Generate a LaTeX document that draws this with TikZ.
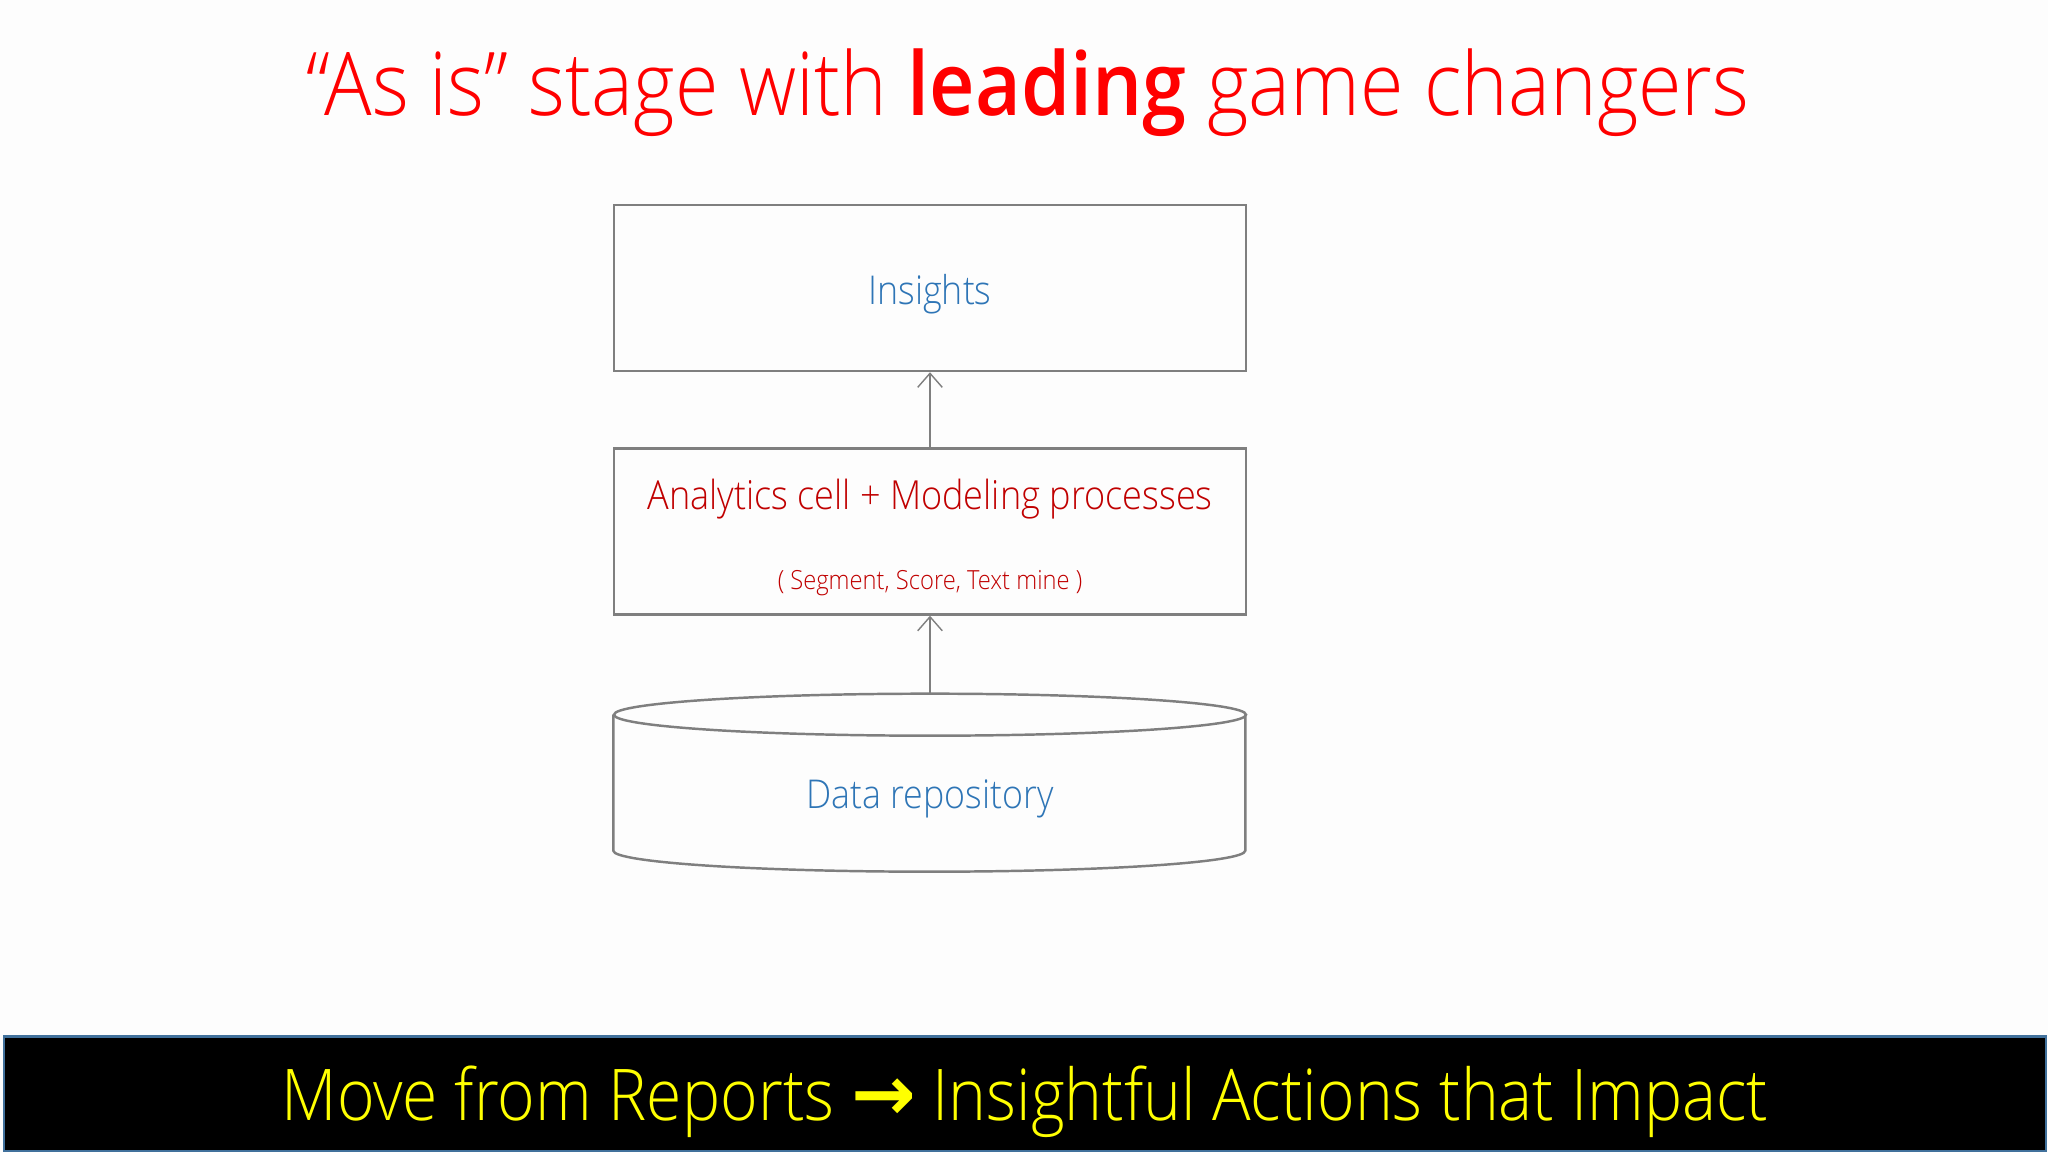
\documentclass[tikz,border=0pt]{standalone}
\usepackage{fontspec}
\setmainfont{Open Sans}[UprightFont=* Light, BoldFont=* Semibold, FakeStretch=0.9]
\newfontfamily\arrowfont{DejaVu Sans}
\usetikzlibrary{positioning,arrows.meta}

\definecolor{titlered}{HTML}{FF0000}
\definecolor{darkred}{HTML}{C00000}
\definecolor{textblue}{HTML}{2E75B6}
\definecolor{boxgrey}{HTML}{7F7F7F}
\definecolor{bandyellow}{HTML}{FFFF00}
\definecolor{bandedge}{HTML}{41719C}
\definecolor{paper}{HTML}{FDFDFD}

\begin{document}
\begin{tikzpicture}[>={Straight Barb[length=4pt,width=7pt]}, node distance=0.75cm,
    box/.style={draw=boxgrey, line width=0.7pt, minimum width=6.32cm, minimum height=1.66cm, inner sep=0pt},
    bluetext/.style={text=textblue, font=\fontsize{11.3}{13}\selectfont},
    redtext/.style={text=darkred, font=\fontsize{11.4}{13}\selectfont},
    smalltext/.style={text=darkred, font=\fontsize{7.5}{9}\selectfont},
    link/.style={draw=boxgrey, line width=0.4pt}]
    % Page
    \fill [paper] (0,0) rectangle (20.48,-11.52);
    \useasboundingbox (0,0) rectangle (20.48,-11.52);

    % Title
    \node [text=titlered, font=\fontsize{25}{29}\selectfont] (title) at (10.28,-0.93)
        {“As is” stage with \textbf{leading} game changers};

    % Nodes {insights, analytics, repo}
    \node [box]            (insights)  at (9.30,-2.88)         {};
    \node [box]            (analytics) [below=of insights]     {};
    \node [minimum width=6.32cm, minimum height=1.78cm, inner sep=0pt]
                           (repo)      [below=0.78cm of analytics] {};

    \node [bluetext]  (insightstext)  at ([yshift=-0.06cm]insights.center)  {Insights};
    \node [redtext]   (analyticsmain) at ([yshift=0.32cm]analytics.center)  {Analytics cell + Modeling processes};
    \node [smalltext] (analyticssub)  at ([yshift=-0.52cm]analytics.center) {( Segment, Score, Text mine )};
    \node [bluetext]  (repotext)      at ([yshift=-0.15cm]repo.center)      {Data repository};

    % Cylinder
    \draw [boxgrey, line width=0.7pt] ([yshift=-0.21cm]repo.north) ellipse [x radius=3.16cm, y radius=0.21cm];
    \draw [boxgrey, line width=0.7pt] ([yshift=-0.21cm]repo.north west) -- ++(0,-1.36)
        arc [start angle=180, end angle=360, x radius=3.16cm, y radius=0.21cm] -- ++(0,1.36);

    % Paths
    \path [->, link] (analytics) edge (insights);
    \path [->, link] (repo)      edge (analytics);

    % Bottom band
    \node [fill=black, draw=bandedge, line width=0.6pt, minimum width=20.42cm, minimum height=1.15cm,
           inner sep=0pt] (band) at (10.25,-10.94) {};
    \node [text=bandyellow, font=\fontsize{20.3}{24}\selectfont] (bandtext) at ([yshift=-0.08cm]band.center)
        {Move from Reports {\arrowfont\bfseries\fontsize{22}{24}\selectfont →} Insightful Actions that Impact};
\end{tikzpicture}
\end{document}
